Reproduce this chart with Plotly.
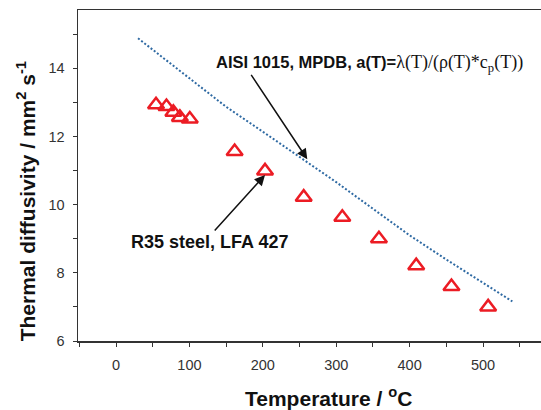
import plotly.graph_objects as go

# Measured data (R35 steel, LFA 427)
temp_meas = [54.5, 68.7, 78.1, 87.0, 100.5, 161.6, 203.0, 255.7, 308.3, 358.2, 409.0, 457.0, 507.0]
diff_meas = [12.93, 12.88, 12.71, 12.56, 12.51, 11.56, 10.99, 10.22, 9.63, 9.00, 8.21, 7.60, 7.00]

# Literature curve (AISI 1015, MPDB)
temp_lit = [30, 100, 150, 200, 250, 300, 350, 400, 450, 500, 540]
diff_lit = [14.88, 13.72, 12.87, 12.14, 11.41, 10.66, 9.88, 9.10, 8.39, 7.71, 7.16]

x_ticks = [0, 100, 200, 300, 400, 500]
y_ticks = [6, 8, 10, 12, 14]

AX = "#333333"
fig = go.Figure()
fig.add_trace(go.Scatter(x=temp_lit, y=diff_lit, mode="lines",
                         line=dict(color="#2f6aa3", width=2, dash="2px,2px"),
                         showlegend=False, hoverinfo="skip"))
fig.add_trace(go.Scatter(x=temp_meas, y=diff_meas, mode="markers",
                         marker=dict(symbol="triangle-up-open", size=14, color="#ec1c24",
                                     line=dict(width=2.5, color="#ec1c24")),
                         showlegend=False, hoverinfo="skip"))

fig.update_layout(
    width=541, height=410,
    margin=dict(l=78, r=0, t=10, b=69),
    plot_bgcolor="white", paper_bgcolor="white",
    font=dict(family="Liberation Sans, Arial, sans-serif", color="#222"),
    xaxis=dict(range=[-51.8, 579], tickvals=x_ticks, ticks="outside", ticklen=4, tickwidth=1,
               tickcolor=AX, showline=True, linecolor=AX, linewidth=1.5, mirror=True,
               showgrid=False, zeroline=False, tickfont=dict(size=14.5, color="#333"),
               ticklabelstandoff=6, automargin=False,
               minor=dict(dtick=50, tick0=0, ticks="outside", ticklen=4, tickcolor=AX)),
    yaxis=dict(range=[6, 15.71], tickvals=y_ticks, ticks="outside", ticklen=4, tickwidth=1,
               tickcolor=AX, showline=True, linecolor=AX, linewidth=1.5,
               showgrid=False, zeroline=False, tickfont=dict(size=14.5, color="#333"),
               ticklabelstandoff=5, automargin=False,
               minor=dict(dtick=1, tick0=0, ticks="outside", ticklen=4, tickcolor=AX)),
)

# Axis titles as annotations
fig.add_annotation(text="<b>Thermal diffusivity / mm<sup>2</sup> s<sup>-1</sup></b>",
                   xref="paper", yref="paper", x=-0.113, y=0.421, xanchor="center", yanchor="middle",
                   textangle=-90, showarrow=False, font=dict(size=21, color="#111"))
fig.add_annotation(text="<b>Temperature / <sup>o</sup>C</b>",
                   xref="paper", yref="paper", x=0.54, y=-0.169, xanchor="center", yanchor="middle",
                   showarrow=False, font=dict(size=21, color="#111"))

# Labels
fig.add_annotation(text="<b>AISI 1015, MPDB, a(T)=</b><span style=\"font-family:'Liberation Serif', serif;font-size:18px\">λ(T)/(ρ(T)*c<sub>p</sub>(T))</span>",
                   xref="paper", yref="paper", x=(214-78)/463, y=(340.7-63.3)/330.7,
                   xanchor="left", yanchor="middle", showarrow=False,
                   font=dict(size=16.5, color="#111"))
fig.add_annotation(text="<b>R35 steel, LFA 427</b>",
                   xref="paper", yref="paper", x=(129.4-78)/463, y=(340.7-241.5)/330.7,
                   xanchor="left", yanchor="middle", showarrow=False,
                   font=dict(size=18, color="#111"))

# Arrows
fig.add_annotation(x=260.6, y=11.33, ax=182.8, ay=13.85, xref="x", yref="y", axref="x", ayref="y",
                   text="", showarrow=True, arrowhead=2, arrowsize=1.4, arrowwidth=1.5, arrowcolor="#111")
fig.add_annotation(x=203, y=10.87, ax=132.6, ay=9.2, xref="x", yref="y", axref="x", ayref="y",
                   text="", showarrow=True, arrowhead=2, arrowsize=1.4, arrowwidth=1.5, arrowcolor="#111")

fig.write_html("out.html", config={"displayModeBar": False, "staticPlot": True},
               post_script="document.body.style.margin='0';document.body.style.padding='0';document.documentElement.style.overflow='hidden';")
